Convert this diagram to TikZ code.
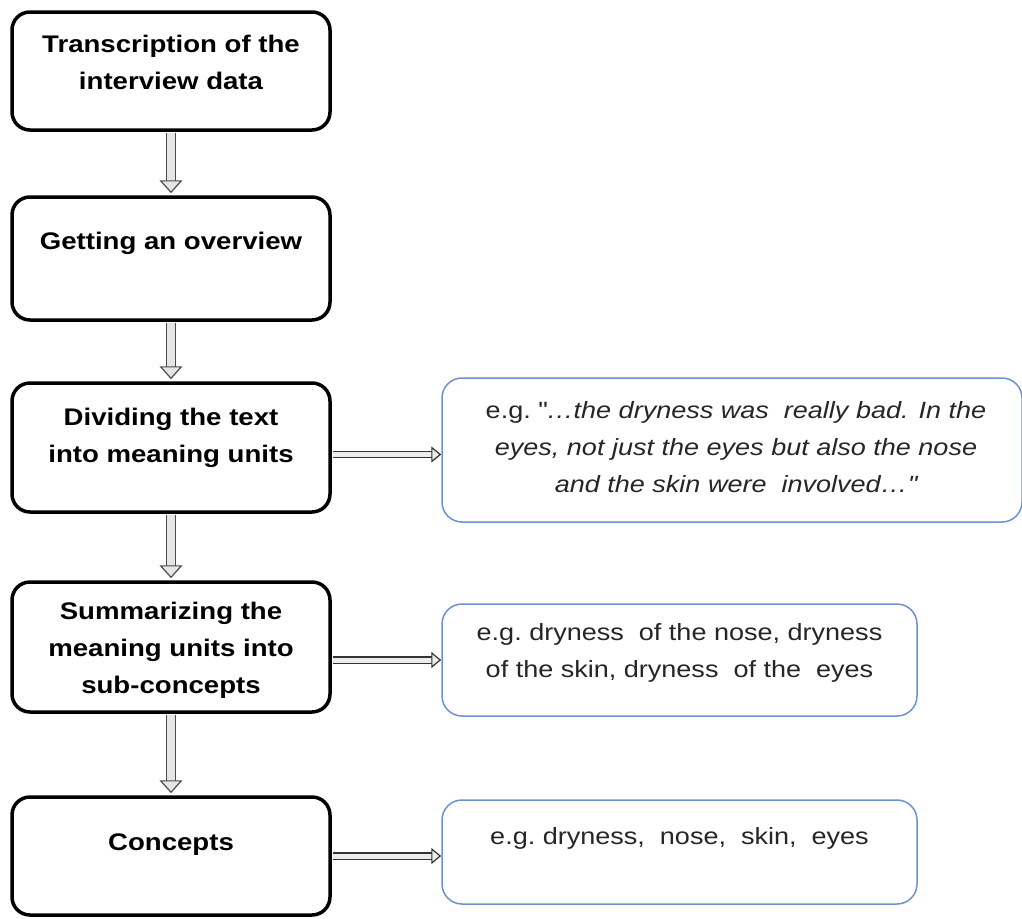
\documentclass[tikz,border=0pt]{standalone}
\usepackage{fontspec}
\setmainfont[FakeStretch=1.15]{Liberation Sans}
\usetikzlibrary{arrows.meta}
\definecolor{exblue}{RGB}{110,145,205}
\begin{document}
\begin{tikzpicture}[x=1pt,y=-1pt,
  stage/.style={draw=black, line width=3.5pt, rounded corners=18pt, minimum width=318pt, fill=white, inner sep=0pt},
  example/.style={draw=exblue, line width=1.5pt, rounded corners=20pt, fill=white, inner sep=0pt},
  btxt/.style={font=\fontsize{24}{37}\selectfont\bfseries, align=center, inner sep=0pt},
  etxt/.style={font=\fontsize{23.5}{37}\selectfont, align=center, text=black!85, inner sep=0pt},
  vflow/.style={double=gray!20, double distance=8.5pt, line width=1.2pt, draw=black!70,
    -{Triangle[width=23pt,length=13pt,color=black!70,fill=gray!20,line width=1.2pt]}, shorten <=1.5pt, shorten >=2pt},
  hflow/.style={double=gray!15, double distance=5pt, line width=1.2pt, draw=black!80,
    -{Triangle[width=16pt,length=10pt,color=black!80,fill=gray!15,line width=1.2pt]}, shorten <=1.5pt},
]
\useasboundingbox (0,0) rectangle (1022,918);

% stages
\node[stage, minimum height=118pt] (s1) at (171,71) {};
\node[stage, minimum height=123pt] (s2) at (171,258.5) {};
\node[stage, minimum height=129pt] (s3) at (171,447.5) {};
\node[stage, minimum height=130pt] (s4) at (171,647) {};
\node[stage, minimum height=118pt] (s5) at (171,856) {};

\node[btxt] (t1) at (171,62) {Transcription of the\\interview data};
\node[btxt] (t2) at (171,243) {Getting an overview};
\node[btxt] (t3) at (171,438) {Dividing the text\\into meaning units};
\node[btxt] (t4) at (171,650) {Summarizing the\\meaning units into\\sub-concepts};
\node[btxt] (t5) at (171,845) {Concepts};

% examples
\node[example, minimum width=580pt, minimum height=144pt] (e1) at (732,450) {};
\node[example, minimum width=475pt, minimum height=112pt] (e2) at (679.5,660) {};
\node[example, minimum width=475pt, minimum height=104pt] (e3) at (679.5,852) {};

\node[etxt] (x1) at (736,447) {e.g.\ \textquotedbl\textit{\ldots the dryness was\ \ really bad. In the}\\\textit{eyes, not just the eyes but also the nose}\\\textit{and the skin were\ \ involved\ldots\textquotedbl}};
\node[etxt] (x2) at (679.5,653) {e.g.\ dryness\ \ of the nose, dryness\\of the skin, dryness\ \ of the\ \ eyes};
\node[etxt] (x3) at (679.5,838) {e.g.\ dryness,\ \ nose,\ \ skin,\ \ eyes};

% vertical arrows
\draw[vflow] (s1.south) -- (s2.north);
\draw[vflow] (s2.south) -- (s3.north);
\draw[vflow] (s3.south) -- (s4.north);
\draw[vflow] (s4.south) -- (s5.north);

% horizontal arrows
\draw[hflow] ([yshift=-7pt]s3.east) -- ([yshift=-7pt]s3.east -| e1.west);
\draw[hflow] ([yshift=-13pt]s4.east) -- ([yshift=-13pt]s4.east -| e2.west);
\draw[hflow] (s5.east) -- (s5.east -| e3.west);
\end{tikzpicture}
\end{document}
